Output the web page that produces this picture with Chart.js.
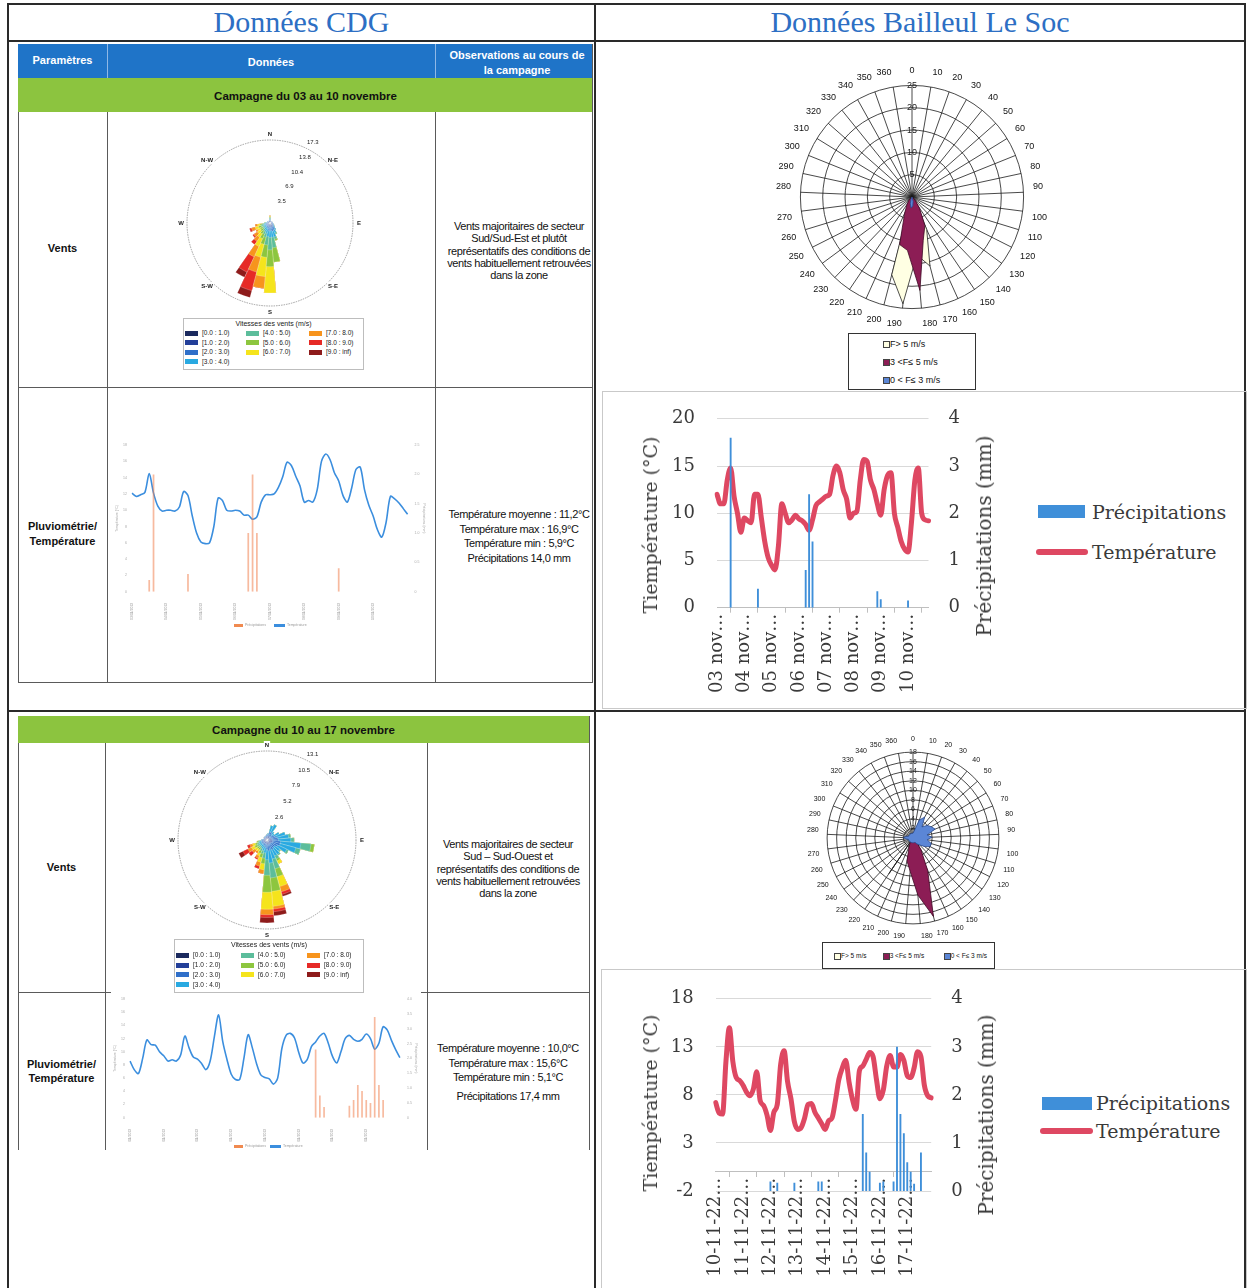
<!DOCTYPE html>
<html lang="fr"><head><meta charset="utf-8"><title>Données météo CDG / Bailleul Le Soc</title>
<script src="https://cdn.jsdelivr.net/npm/chart.js@4.4.1/dist/chart.umd.min.js"></script>
<style>
html,body{margin:0;padding:0;background:#fff;}
body{position:relative;width:1247px;height:1288px;overflow:hidden;font-family:"Liberation Sans",Arial,sans-serif;color:#111;}
.ln{position:absolute;background:#2a2a2a;}
.tl{position:absolute;background:#5a5a5a;}
.title{position:absolute;top:4px;font-family:"Liberation Serif",serif;font-size:30px;color:#2d6fc4;text-align:center;line-height:36px;}
.hdr{position:absolute;background:#1f74c8;}
.hdrt{position:absolute;color:#fff;font-weight:bold;font-size:11px;text-align:center;line-height:15px;}
.green{position:absolute;background:#8cc43f;}
.camp{position:absolute;font-weight:bold;font-size:11.5px;text-align:center;line-height:16px;}
.rowlab{position:absolute;font-weight:bold;font-size:11px;text-align:center;}
.obs{position:absolute;font-size:11px;letter-spacing:-0.4px;text-align:center;white-space:nowrap;color:#111;}
canvas{position:absolute;}
.box{position:absolute;border:1px solid #c9c9c9;}
.rleg{position:absolute;border:1px solid #bdbdbd;background:#fff;font-size:6.5px;color:#222;}
.rleg div{position:absolute;white-space:nowrap;}
.bleg{position:absolute;border:1px solid #333;background:#fff;font-size:9px;color:#111;}
.bleg div{position:absolute;white-space:nowrap;}
.sw{position:absolute;}
.xl{position:absolute;font-family:"DejaVu Serif",serif;font-size:19px;color:#3a3a3a;white-space:nowrap;line-height:22px;}
.vt{position:absolute;font-family:"DejaVu Serif",serif;font-size:19px;color:#3a3a3a;white-space:nowrap;line-height:22px;transform:translate(-50%,-50%) rotate(-90deg);}
.tiny{position:absolute;font-size:3.5px;color:#999;white-space:nowrap;}
</style>
</head>
<body>
<!-- outer frame -->
<div class="ln" style="left:8px;top:3px;width:1238px;height:1.5px"></div>
<div class="ln" style="left:8px;top:40px;width:1238px;height:1.5px"></div>
<div class="ln" style="left:8px;top:710px;width:1238px;height:2px"></div>
<div class="ln" style="left:7px;top:3px;width:1.5px;height:1285px"></div>
<div class="ln" style="left:594px;top:3px;width:1.5px;height:1285px"></div>
<div class="ln" style="left:1244px;top:3px;width:1.5px;height:1285px"></div>

<div class="title" style="left:8px;width:587px">Données CDG</div>
<div class="title" style="left:595px;width:650px">Données Bailleul Le Soc</div>

<!-- CDG table 1 -->
<div class="hdr" style="left:18px;top:44px;width:575px;height:34px"></div>
<div style="position:absolute;left:107px;top:44px;width:1px;height:34px;background:#8fb8e6"></div>
<div style="position:absolute;left:435px;top:44px;width:1px;height:34px;background:#8fb8e6"></div>
<div class="hdrt" style="left:18px;top:52.5px;width:89px">Paramètres</div>
<div class="hdrt" style="left:107px;top:54.5px;width:328px">Données</div>
<div class="hdrt" style="left:436px;top:47.5px;width:162px">Observations au cours de<br>la campagne</div>
<div class="green" style="left:18px;top:78px;width:575px;height:34px"></div>
<div class="camp" style="left:18px;top:88px;width:575px">Campagne du 03 au 10 novembre</div>
<div class="tl" style="left:18px;top:112px;width:1px;height:570px"></div>
<div class="tl" style="left:107px;top:112px;width:1px;height:570px"></div>
<div class="tl" style="left:435px;top:112px;width:1px;height:570px"></div>
<div class="tl" style="left:592px;top:44px;width:1px;height:638px"></div>
<div class="tl" style="left:18px;top:387px;width:575px;height:1px"></div>
<div class="tl" style="left:18px;top:682px;width:575px;height:1px"></div>
<div class="rowlab" style="left:18px;top:241px;width:89px;line-height:14px">Vents</div>
<div class="rowlab" style="left:18px;top:518.5px;width:89px;line-height:15px">Pluviométrie/<br>Température</div>
<div class="obs" style="left:436px;top:220px;width:166px;line-height:12.3px">Vents majoritaires de secteur<br>Sud/Sud-Est et plutôt<br>représentatifs des conditions de<br>vents habituellement retrouvées<br>dans la zone</div>
<div class="obs" style="left:436px;top:507px;width:166px;line-height:14.7px">Température moyenne : 11,2°C<br>Température max : 16,9°C<br>Température min : 5,9°C<br>Précipitations 14,0 mm</div>

<!-- CDG table 2 -->
<div class="green" style="left:18px;top:716px;width:571px;height:27px"></div>
<div class="camp" style="left:18px;top:722px;width:571px">Campagne du 10 au 17 novembre</div>
<div class="tl" style="left:18px;top:743px;width:1px;height:407px"></div>
<div class="tl" style="left:105px;top:743px;width:1px;height:407px"></div>
<div class="tl" style="left:427px;top:743px;width:1px;height:407px"></div>
<div class="tl" style="left:589px;top:716px;width:1px;height:434px"></div>
<div class="tl" style="left:18px;top:992px;width:93px;height:1px"></div>
<div class="tl" style="left:421px;top:992px;width:168px;height:1px"></div>
<div class="rowlab" style="left:18px;top:860px;width:87px;line-height:14px">Vents</div>
<div class="rowlab" style="left:18px;top:1058px;width:87px;line-height:13.5px">Pluviométrie/<br>Température</div>
<div class="obs" style="left:427px;top:838px;width:162px;line-height:12.25px">Vents majoritaires de secteur<br>Sud – Sud-Ouest et<br>représentatifs des conditions de<br>vents habituellement retrouvées<br>dans la zone</div>
<div class="obs" style="left:427px;top:1041px;width:162px;line-height:14.5px">Température moyenne : 10,0°C<br>Température max : 15,6°C<br>Température min : 5,1°C</div>
<div class="obs" style="left:427px;top:1089px;width:162px;line-height:14.5px">Précipitations 17,4 mm</div>

<!-- CDG canvases -->
<canvas id="cdgRose1" width="220" height="220" style="left:160px;top:113px"></canvas>
<div class="rleg" id="cdgLeg1" style="left:183px;top:318px;width:179px;height:50px"></div>
<canvas id="cdgLine1" width="330" height="196" style="left:108px;top:436px"></canvas>
<div class="sw" style="left:234px;top:624px;width:9px;height:2.5px;background:#f08a50"></div>
<div class="tiny" style="left:245px;top:623px">Précipitations</div>
<div class="sw" style="left:274px;top:624px;width:11px;height:2.5px;background:#3b8ede"></div>
<div class="tiny" style="left:287px;top:623px">Température</div>

<canvas id="cdgRose2" width="240" height="240" style="left:146.7px;top:720px"></canvas>
<div class="rleg" id="cdgLeg2" style="left:174px;top:939px;width:188px;height:52px"></div>
<canvas id="cdgLine2" width="324" height="152" style="left:106px;top:990px"></canvas>
<div class="sw" style="left:234px;top:1145px;width:9px;height:2.5px;background:#f08a50"></div>
<div class="tiny" style="left:245px;top:1144px">Précipitations</div>
<div class="sw" style="left:270px;top:1145px;width:11px;height:2.5px;background:#3b8ede"></div>
<div class="tiny" style="left:283px;top:1144px">Température</div>

<!-- Bailleul -->
<canvas id="blRoseA" width="272" height="272" style="left:775.7px;top:60.7px"></canvas>
<div class="bleg" id="blLegA" style="left:848px;top:333px;width:126px;height:55px"></div>
<div class="box" style="left:602px;top:391px;width:643px;height:316px"></div>
<canvas id="blLine1" width="362" height="315" style="left:636px;top:385.5px"></canvas>
<div class="vt" id="blT1l" style="left:649.6px;top:525px"></div>
<div class="vt" id="blT1r" style="left:984px;top:536px;font-size:20px"></div>
<div class="sw" style="left:1038px;top:505px;width:47px;height:13px;background:#3f8fd9"></div>
<div class="xl" id="blL1a" style="left:1092px;top:500.7px"></div>
<div class="sw" style="left:1036px;top:548.5px;width:52px;height:6.5px;border-radius:3px;background:#de4862"></div>
<div class="xl" id="blL1b" style="left:1092px;top:540.7px"></div>

<canvas id="blRoseB" width="212" height="212" style="left:807.3px;top:732.3px"></canvas>
<div class="bleg" id="blLegB" style="left:822px;top:942px;width:171px;height:25px;font-size:6.5px"></div>
<div class="box" style="left:601px;top:969px;width:644px;height:320px"></div>
<canvas id="blLine2" width="364" height="323" style="left:636px;top:965.5px"></canvas>
<div class="vt" id="blT2l" style="left:649.6px;top:1103px"></div>
<div class="vt" id="blT2r" style="left:986px;top:1115px;font-size:20px"></div>
<div class="sw" style="left:1042px;top:1097px;width:50px;height:13px;background:#3f8fd9"></div>
<div class="xl" id="blL2a" style="left:1096px;top:1092px"></div>
<div class="sw" style="left:1040px;top:1127.5px;width:53px;height:6.5px;border-radius:3px;background:#de4862"></div>
<div class="xl" id="blL2b" style="left:1096px;top:1119.7px"></div>

<script>
// ---------------- DATA ----------------
// CDG wind roses: 36 directions (0°,10°,...,350°), one array per wind-speed class (%)
const roseDirs = ['0°','10°','20°','30°','40°','50°','60°','70°','80°','90°','100°','110°','120°','130°','140°','150°','160°','170°','180°','190°','200°','210°','220°','230°','240°','250°','260°','270°','280°','290°','300°','310°','320°','330°','340°','350°'];
const speedBins = ['[0.0 : 1.0)','[1.0 : 2.0)','[2.0 : 3.0)','[3.0 : 4.0)','[4.0 : 5.0)','[5.0 : 6.0)','[6.0 : 7.0)','[7.0 : 8.0)','[8.0 : 9.0)','[9.0 : inf)'];
const compassPoints = ['N','N-E','E','S-E','S','S-W','W','N-W'];

// Campagne du 03 au 10 novembre
const rose1Max = 17.3;
const rose1RingLabels = ['3.5','6.9','10.4','13.8','17.3'];
const rose1Bin0 = [.2,.2,.2,.2,.2,.2,.2,.2,.2,.2,.2,.2,.2,.2,.3,.3,.3,.3,.3,.3,.3,.2,.2,.2,.2,.2,.2,.2,.2,.2,.2,.2,.2,.2,.2,.2];
const rose1Bin1 = [.3,.2,.2,.2,.2,.2,.2,.2,.2,.2,.2,.3,.3,.3,.5,.5,.6,.5,.5,.5,.4,.4,.3,.3,.3,.3,.3,.3,.2,.2,.2,.2,.2,.2,.2,.2];
const rose1Bin2 = [.3,.2,.1,0,0,0,.1,.1,.2,.2,.2,.2,.3,.4,.6,.8,.9,.8,.8,.8,.6,.5,.5,.4,.4,.4,.4,.3,.2,.2,.2,.1,.1,.1,.1,.2];
const rose1Bin3 = [.2,0,0,0,0,0,0,0,0,0,.1,.1,.2,.3,.4,.7,1.2,1.4,1.4,1.2,.9,.8,.6,.5,.5,.5,.4,.2,.1,0,0,0,0,0,0,0];
const rose1Bin4 = [.2,0,0,0,0,0,0,0,0,0,0,0,0,0,0,.3,.5,2.2,2.6,1.8,.9,.7,.5,.4,.4,.5,.4,.2,0,0,0,0,0,0,0,0];
const rose1Bin5 = [.1,0,0,0,0,0,0,0,0,0,0,0,0,0,0,0,.3,3.0,3.5,2.6,1.5,1.0,.7,.6,.5,.6,.4,0,0,0,0,0,0,0,0,0];
const rose1Bin6 = [.2,0,0,0,0,0,0,0,0,0,0,0,0,0,0,0,0,0,5.5,4.0,2.8,1.8,.9,.8,.6,.7,.5,0,0,0,0,0,0,0,0,0];
const rose1Bin7 = [0,0,0,0,0,0,0,0,0,0,0,0,0,0,0,0,0,0,0,2.5,3.2,2.4,1.0,.9,.4,.8,.5,0,0,0,0,0,0,0,0,0];
const rose1Bin8 = [0,0,0,0,0,0,0,0,0,0,0,0,0,0,0,0,0,0,0,0,4.0,3.5,.8,.3,0,.4,0,0,0,0,0,0,0,0,0,0];
const rose1Bin9 = [0,0,0,0,0,0,0,0,0,0,0,0,0,0,0,0,0,0,0,0,1.5,1.2,0,0,0,0,0,0,0,0,0,0,0,0,0,0];

// Campagne du 10 au 17 novembre
const rose2Max = 13.1;
const rose2RingLabels = ['2.6','5.2','7.9','10.5','13.1'];
const rose2Bin0 = [.2,.2,.2,.2,.2,.2,.2,.2,.2,.2,.2,.2,.2,.2,.2,.2,.2,.2,.2,.2,.2,.2,.2,.2,.2,.2,.2,.2,.2,.2,.2,.2,.2,.2,.2,.2];
const rose2Bin1 = [.3,.3,.4,.4,.3,.3,.4,.4,.5,.5,.6,.6,.5,.4,.4,.5,.4,.5,.4,.3,.3,.3,.3,.3,.3,.3,.3,.3,.2,.2,.2,.2,.2,.2,.2,.3];
const rose2Bin2 = [.3,.3,.6,.7,.5,.4,.6,.8,.9,1.0,1.2,1.2,1.0,.8,.8,.9,.8,.9,.8,.6,.5,.4,.3,.3,.4,.3,.3,.3,.2,.1,.1,.2,.2,.2,.2,.2];
const rose2Bin3 = [0,.2,1.0,1.2,.5,.4,.8,1.4,1.6,1.8,3.0,2.4,1.5,.9,1.2,1.0,1.5,1.8,1.5,.8,.6,.5,.4,.4,.4,.4,.3,0,0,0,0,0,0,0,0,0];
const rose2Bin4 = [0,0,0,0,0,0,0,0,.3,.5,1.5,.7,.3,.2,.2,.5,1.5,2.2,2.3,.8,.5,.4,.3,.3,.3,.3,.2,0,0,0,0,0,0,0,0,0];
const rose2Bin5 = [0,0,0,0,0,0,0,0,0,0,.5,0,0,0,0,.3,1.2,2.0,2.5,.8,.6,.4,.3,.3,.4,.3,.2,0,0,0,0,0,0,0,0,0];
const rose2Bin6 = [0,0,0,0,0,0,0,0,0,0,0,0,0,0,0,.5,1.5,2.2,2.5,.9,.7,.4,.3,.4,.5,.4,0,0,0,0,0,0,0,0,0,0];
const rose2Bin7 = [0,0,0,0,0,0,0,0,0,0,0,0,0,0,0,0,.8,.4,.8,.6,.6,.4,.3,.5,.6,.4,0,0,0,0,0,0,0,0,0,0];
const rose2Bin8 = [0,0,0,0,0,0,0,0,0,0,0,0,0,0,0,0,.4,.4,.4,0,.4,.2,0,.6,.8,.4,0,0,0,0,0,0,0,0,0,0];
const rose2Bin9 = [0,0,0,0,0,0,0,0,0,0,0,0,0,0,0,0,.3,.6,.8,0,0,0,0,0,.7,0,0,0,0,0,0,0,0,0,0,0];

// CDG temperature (°C) / precipitation (mm), 3-hourly
const cdgDays1 = ['03/11/2022','04/11/2022','05/11/2022','06/11/2022','07/11/2022','08/11/2022','09/11/2022','10/11/2022'];
const cdgTemp1 = [12.1,11.7,11.9,12.2,14.5,12.1,10.5,9.9,10.0,10.0,9.9,10.4,12.3,11.8,9.3,7.2,6.1,5.9,6.0,8.0,11.5,11.2,10.0,9.9,10.0,9.9,9.4,9.4,8.9,9.2,11.0,11.9,11.9,12.0,12.8,14.1,15.9,15.5,14.2,13.0,11.0,11.2,11.0,12.5,16.0,16.9,16.2,14.6,13.6,11.8,11.0,12.7,15.0,15.3,12.5,10.6,9.3,7.6,6.7,8.5,11.7,11.4,10.9,10.2,9.5];
const cdgRain1 = [0,0,0,0,0.2,2.0,0,0,0,0,0,0,0,0.3,0,0,0,0,0,0,0,0,0,0,0,0,0,1.0,2.0,1.0,0,0,0,0,0,0,0,0,0,0,0,0,0,0,0,0,0,0,0.4,0,0,0,0,0,0,0,0,0,0,0,0,0,0,0,0];
const cdgDays2 = ['10/11/2022','11/11/2022','12/11/2022','13/11/2022','14/11/2022','15/11/2022','16/11/2022','17/11/2022'];
const cdgTemp2 = [8.6,7.3,6.7,9.0,11.8,11.1,11.0,10.0,9.4,8.6,8.8,8.6,9.5,12.4,10.6,9.2,8.9,8.2,7.3,8.6,12.3,15.6,11.5,8.8,6.6,5.8,5.8,9.0,12.6,10.6,8.2,6.5,6.1,5.9,5.1,6.0,10.5,12.5,12.8,12.1,9.9,8.3,8.8,10.8,11.5,12.4,12.8,11.3,9.3,8.3,10.0,12.0,12.5,11.9,11.6,11.9,12.7,12.0,10.4,11.3,13.8,13.3,11.7,10.3,9.1];
const cdgRain2 = [0,0,0,0,0,0,0,0,0,0,0,0,0,0,0,0,0,0,0,0,0,0,0,0,0,0,0,0,0,0,0,0,0,0,0,0,0,0,0,0,0,0,0,0,2.3,0.75,0.36,0,0,0,0,0,0.4,0.6,1.1,0.9,0.6,0.5,3.4,1.1,0.6,0,0,0,0];

// Bailleul Le Soc wind roses (37 categories 0..360)
const blRoseCats = ['0','10','20','30','40','50','60','70','80','90','100','110','120','130','140','150','160','170','180','190','200','210','220','230','240','250','260','270','280','290','300','310','320','330','340','350','360'];
const blRoseLegend = ['F> 5 m/s','3 <F≤ 5 m/s','0 < F≤ 3 m/s'];
const blRoseA_high = [0,0,0,0,0,0,0,0,0,0,0,0,0,0,0,2,8,16,13,24,18,1,0,0,0,0,0,0,0,0,0,0,0,0,0,0,0];
const blRoseA_mid  = [0,0,0,0,0,0,0,0,0,0,0,0,0,0,1,3,7,10,21,12,11,4,2,1,0,0,0,0,0,0,0,0,0,0,0,0,0];
const blRoseA_low  = [0,0,0,0,0,0,0,0,0,0,0,0,0,0,0,0,0,1,2,2.5,1.5,0.5,0,0,0,0,0,0,0,0,0,0,0,0,0,0,0];
const blRoseB_high = [0,0,0,0,0,0,0,0,0,0,0,0,0,0,0,0,0,0,0,0,0,0,9,0,0,0,0,0,0,0,0,0,0,0,0,0,0];
const blRoseB_mid  = [0,0,0,0,0,0,0,0,0,0,0,0,0,0,1,3,7.5,17,12,7,5,2,1,0,0,0,0,0,0,0,0,0,0,0,0,0,0];
const blRoseB_low  = [1,1.5,4,5,3,4,4.5,5,3,4,3,4,4,3,2,1.5,1,1,1,1,1,1,1,1,1,1,1,1.5,2,1.5,1,1,1,1,1,1,1];

// Bailleul Le Soc temperature (°C) / precipitation (mm), 3-hourly
const blLegendLabels = ['Précipitations','Température'];
const blAxisTitles = ['Tiempérature (°C)','Précipitations (mm)'];
const blDays1 = ['03 nov…','04 nov…','05 nov…','06 nov…','07 nov…','08 nov…','09 nov…','10 nov…'];
const blTemp1 = [12,11,11,13.5,14.8,11.8,10,8,9.5,9.2,9,12,12,9.5,7,5.3,4.5,4,6.5,11,10,9,9.3,9.8,9.4,9.2,8.8,8.2,9.3,10.8,11.2,11.5,11.8,12,14,15,14.3,12.5,11.5,9.5,10,10.2,13.5,15.7,15.5,13.5,12.5,11,9.8,12.5,14,14.3,10,8.5,7,6.2,5.9,9,13.5,14.8,10,9.3,9.2];
const blRain1 = [0,0,0,0,3.6,0,0,0,0,0,0,0,0.4,0,0,0,0,0,0,0,0,0,0,0,0,0,0.8,2.4,1.4,0,0,0,0,0,0,0,0,0,0,0,0,0,0,0,0,0,0,0.35,0.18,0,0,0,0,0,0,0,0.15,0,0,0,0,0,0];
const blDays2 = ['10-11-22…','11-11-22…','12-11-22…','13-11-22…','14-11-22…','15-11-22…','16-11-22…','17-11-22…'];
const blTemp2 = [7.2,6.1,6.0,11.5,15,11.5,9.8,9.5,9.0,8.3,7.9,8.6,10.4,7.4,6.9,5.9,4.3,6.2,7.0,11.2,12.6,9.4,7.6,5.2,4.4,4.6,5.6,7.0,7.1,6.2,5.6,5.0,4.4,5.3,5.6,7.4,9.6,10.8,11.6,9.3,7.5,6.5,10.5,11.0,11.7,12.4,12.0,9.6,7.6,8.5,11.0,12.1,10.9,10.9,12.2,11.6,10.0,9.8,10.8,12.5,12.0,9.0,7.9,7.7];
const blRain2 = [0,0,0,0,0,0,0,0,0,0,0,0,0,0,0,0,0.2,0,0.17,0,0,0,0,0.17,0,0,0,0,0,0,0.2,0.2,0,0,0,0,0,0,0,0,0,0,0,1.6,0.8,0.4,0,0,0.17,0.2,0,0,0.2,3.0,1.6,1.2,0.6,0.4,0.15,0,0.8,0,0,0];

// ---------------- STYLE ----------------
const binColors = ['#1b2a5e','#233f99','#2f6fc9','#29a9e1','#5cbd9b','#8dc63f','#f5e41c','#f7941d','#e62a26','#8e1b1b'];
const hours3 = ['00h','03h','06h','09h','12h','15h','18h','21h'];

Chart.defaults.animation = false;
Chart.defaults.responsive = false;
Chart.defaults.devicePixelRatio = 1;
Chart.defaults.font.family = '"Liberation Sans", Arial, sans-serif';
Chart.defaults.plugins.legend.display = false;
Chart.defaults.plugins.tooltip.enabled = false;

function timeLabels(days, n) {
  const out = [];
  for (let i = 0; i < n; i++) out.push((days[Math.floor(i / 8)] || '') + ' ' + hours3[i % 8]);
  return out;
}

// ---------- CDG wind roses (stacked polar area) ----------
function roseDecor(rings, compassOffset) {
  return {
    id: 'roseDecor',
    beforeDatasetsDraw(chart) {
      const s = chart.scales.r, ctx = chart.ctx;
      ctx.save();
      ctx.strokeStyle = '#8a8a8a'; ctx.lineWidth = 0.8; ctx.setLineDash([1.5, 1]);
      ctx.beginPath(); ctx.arc(s.xCenter, s.yCenter, s.drawingArea, 0, 2 * Math.PI); ctx.stroke();
      ctx.restore();
    },
    afterDatasetsDraw(chart) {
      const s = chart.scales.r, ctx = chart.ctx;
      const cx = s.xCenter, cy = s.yCenter, R = s.drawingArea;
      ctx.save();
      ctx.textAlign = 'center'; ctx.textBaseline = 'middle';
      ctx.font = 'bold 6px "Liberation Sans"';
      compassPoints.forEach((t, k) => {
        const a = k * Math.PI / 4, r = R + compassOffset;
        const x = cx + r * Math.sin(a), y = cy - r * Math.cos(a);
        const w = ctx.measureText(t).width;
        ctx.fillStyle = '#fff'; ctx.fillRect(x - w / 2 - 1, y - 4, w + 2, 8);
        ctx.fillStyle = '#222'; ctx.fillText(t, x, y);
      });
      ctx.font = '6px "Liberation Sans"';
      const a = 28 * Math.PI / 180;
      rings.forEach((t, i) => {
        const r = s.getDistanceFromCenterForValue(s.max * (i + 1) / rings.length) + 8;
        ctx.fillStyle = '#222'; ctx.fillText(t, cx + r * Math.sin(a), cy - r * Math.cos(a));
      });
      ctx.restore();
    }
  };
}
function roseDatasets(bins) {
  const cum = bins[0].map(() => 0);
  return bins.map((b, k) => ({
    label: speedBins[k],
    data: b.map((v, i) => (cum[i] = Math.round((cum[i] + v) * 100) / 100)),
    backgroundColor: binColors[k],
    borderColor: 'rgba(255,255,255,0.6)',
    borderWidth: 0.4
  }));
}
function cdgRose(id, bins, max, rings, pad, off) {
  new Chart(document.getElementById(id), {
    type: 'polarArea',
    data: { labels: roseDirs, datasets: roseDatasets(bins) },
    options: {
      layout: { padding: pad },
      scales: { r: { min: 0, max: max, startAngle: -5, ticks: { display: false }, grid: { display: false }, angleLines: { display: false }, pointLabels: { display: false } } }
    },
    plugins: [roseDecor(rings, off)]
  });
}
cdgRose('cdgRose1', [rose1Bin0, rose1Bin1, rose1Bin2, rose1Bin3, rose1Bin4, rose1Bin5, rose1Bin6, rose1Bin7, rose1Bin8, rose1Bin9], rose1Max, rose1RingLabels, 27, 6);
cdgRose('cdgRose2', [rose2Bin0, rose2Bin1, rose2Bin2, rose2Bin3, rose2Bin4, rose2Bin5, rose2Bin6, rose2Bin7, rose2Bin8, rose2Bin9], rose2Max, rose2RingLabels, 30.7, 6);

function roseLegend(id, colX, rowY0, rowStep, titleY) {
  const box = document.getElementById(id);
  const t = document.createElement('div');
  t.textContent = 'Vitesses des vents (m/s)';
  t.style.cssText = 'left:0;width:100%;text-align:center;top:' + (titleY - 4) + 'px;line-height:8px;font-size:7px';
  box.appendChild(t);
  const cols = [[0, 1, 2, 3], [4, 5, 6], [7, 8, 9]];
  cols.forEach((c, ci) => c.forEach((k, ri) => {
    const y = rowY0 + ri * rowStep;
    const sw = document.createElement('div');
    sw.style.cssText = 'left:' + colX[ci] + 'px;top:' + (y - 2.5) + 'px;width:13px;height:5px;background:' + binColors[k];
    box.appendChild(sw);
    const tx = document.createElement('div');
    tx.textContent = speedBins[k];
    tx.style.cssText = 'left:' + (colX[ci] + 17) + 'px;top:' + (y - 4) + 'px;line-height:8px';
    box.appendChild(tx);
  }));
}
roseLegend('cdgLeg1', [1, 62, 125], 14, 9.5, 4.7);
roseLegend('cdgLeg2', [1, 66, 132], 15.3, 9.8, 5.3);

// ---------- CDG temperature / precipitation ----------
function cdgChart(id, days, temp, rain, rainMax, rainStep, top, xH, rightW) {
  const tiny = { size: 3.5 };
  new Chart(document.getElementById(id), {
    type: 'bar',
    data: {
      labels: timeLabels(days, temp.length),
      datasets: [
        { type: 'line', label: 'Température', data: temp, yAxisID: 'y', borderColor: '#3b8ede', borderWidth: 1.6, pointRadius: 0, tension: 0.3, order: 1 },
        { type: 'bar', label: 'Précipitations', data: rain, yAxisID: 'y1', backgroundColor: 'rgba(240,130,80,0.55)', barPercentage: 0.4, categoryPercentage: 1, order: 0 }
      ]
    },
    options: {
      layout: { padding: { top: top, bottom: 0, left: 0, right: 0 } },
      scales: {
        x: { offset: false, grid: { display: false }, border: { display: false },
             ticks: { autoSkip: false, minRotation: 90, maxRotation: 90, font: tiny, color: '#999', padding: 3,
                      callback: (v, i) => (i % 8 === 0 && days[i / 8]) ? days[i / 8] : null },
             afterFit: s => { s.height = xH; } },
        y: { min: 0, max: 18, ticks: { stepSize: 2, font: tiny, color: '#aaa', padding: 5 }, grid: { display: false, drawTicks: false }, border: { display: false },
             title: { display: true, text: 'Température (°C)', font: tiny, color: '#aaa', padding: { top: 7, bottom: 0 } },
             afterFit: s => { s.width = 24; } },
        y1: { position: 'right', min: 0, max: rainMax, ticks: { stepSize: rainStep, font: tiny, color: '#aaa', padding: 7 }, grid: { display: false, drawTicks: false }, border: { display: false },
              title: { display: true, text: 'Précipitations (mm)', font: tiny, color: '#aaa', padding: { top: 12, bottom: 0 } },
              afterFit: s => { s.width = rightW; } }
      }
    }
  });
}
cdgChart('cdgLine1', cdgDays1, cdgTemp1, cdgRain1, 2.5, 0.5, 7.3, 40.3, 30.4);
cdgChart('cdgLine2', cdgDays2, cdgTemp2, cdgRain2, 4, 0.5, 6.7, 24.3, 30);

// ---------- Bailleul wind roses (radar) ----------
function blRose(id, high, mid, low, max, step, fs, pad) {
  new Chart(document.getElementById(id), {
    type: 'radar',
    data: {
      labels: blRoseCats,
      datasets: [
        { label: blRoseLegend[0], data: high, backgroundColor: '#ffffe3', borderColor: '#222', borderWidth: 0.8, pointRadius: 0, fill: true, order: 3 },
        { label: blRoseLegend[1], data: mid, backgroundColor: '#8c1d55', borderColor: '#3d0a25', borderWidth: 0.8, pointRadius: 0, fill: true, order: 2 },
        { label: blRoseLegend[2], data: low, backgroundColor: '#5b86d6', borderColor: '#2a4a90', borderWidth: 0.8, pointRadius: 0, fill: true, order: 1 }
      ]
    },
    options: {
      layout: { padding: pad },
      scales: { r: { min: 0, max: max,
        ticks: { stepSize: step, showLabelBackdrop: false, font: { size: fs }, color: '#222' },
        grid: { circular: true, color: '#1a1a1a', lineWidth: 0.8 },
        angleLines: { color: '#1a1a1a', lineWidth: 0.8 },
        pointLabels: { font: { size: fs }, color: '#111', padding: 3 } } }
    }
  });
}
blRose('blRoseA', blRoseA_high, blRoseA_mid, blRoseA_low, 25, 5, 9, 0);
blRose('blRoseB', blRoseB_high, blRoseB_mid, blRoseB_low, 18, 2, 7, 0);

function blLegend(id, fs, pos) {
  const box = document.getElementById(id);
  const cols = ['#ffffe3', '#8c1d55', '#5b86d6'];
  blRoseLegend.forEach((t, k) => {
    const sw = document.createElement('div');
    sw.style.cssText = 'left:' + pos[k][0] + 'px;top:' + (pos[k][1] - 3) + 'px;width:5px;height:5px;border:0.7px solid #444;background:' + cols[k];
    box.appendChild(sw);
    const tx = document.createElement('div');
    tx.textContent = t;
    tx.style.cssText = 'left:' + (pos[k][0] + 7) + 'px;top:' + (pos[k][1] - 6) + 'px;line-height:12px;font-size:' + fs + 'px';
    box.appendChild(tx);
  });
}
blLegend('blLegA', 9, [[34, 9.7], [34, 28], [34, 46.3]]);
blLegend('blLegB', 6.5, [[11, 12.5], [59.7, 12.5], [120.7, 12.5]]);

// ---------- Bailleul temperature / precipitation ----------
function blChart(id, days, temp, rain, yMin, yMax, yStep, xAtZero, leftW, rightW, xH, padBottom) {
  const f18 = { family: '"DejaVu Serif", serif', size: 18 };
  new Chart(document.getElementById(id), {
    type: 'bar',
    data: {
      labels: timeLabels(days, temp.length),
      datasets: [
        { type: 'line', label: blLegendLabels[1], data: temp, yAxisID: 'y', borderColor: '#de4862', borderWidth: 5, pointRadius: 0, cubicInterpolationMode: 'monotone', borderJoinStyle: 'round', borderCapStyle: 'round', order: 1 },
        { type: 'bar', label: blLegendLabels[0], data: rain, yAxisID: 'y1', backgroundColor: '#3f8fd9', barPercentage: 0.55, categoryPercentage: 1, order: 0 }
      ]
    },
    options: {
      layout: { padding: { top: 0, bottom: padBottom, left: 0, right: 0 } },
      scales: {
        x: { position: xAtZero ? { y: 0 } : 'bottom', offset: false,
             grid: { display: true, drawOnChartArea: false, drawTicks: true, tickLength: 5, color: '#bfbfbf' },
             border: { display: true, color: '#bfbfbf', dash: xAtZero ? [4, 3] : [] },
             ticks: { autoSkip: false, minRotation: 90, maxRotation: 90, padding: 1, font: f18, color: '#3a3a3a',
                      callback: (v, i) => (i % 8 === 0 && days[i / 8]) ? days[i / 8] : null },
             afterFit: s => { s.height = xH; } },
        y: { position: 'left', min: yMin, max: yMax, ticks: { stepSize: yStep, padding: 22, font: f18, color: '#3a3a3a' },
             grid: { color: '#d9d9d9', drawTicks: false }, border: { display: false },
             afterFit: s => { s.width = leftW; } },
        y1: { position: 'right', min: 0, max: 4, ticks: { stepSize: 1, padding: 20, font: f18, color: '#3a3a3a' },
              grid: { display: false, drawTicks: false }, border: { display: false },
              afterFit: s => { s.width = rightW; } }
      }
    }
  });
}
blChart('blLine1', blDays1, blTemp1, blRain1, 0, 20, 5, false, 81, 69.5, 93.3, 0);
blChart('blLine2', blDays2, blTemp2, blRain2, -2, 18, 5, true, 79.7, 68.8, 0, 98);

[['blL1a', blLegendLabels[0]], ['blL1b', blLegendLabels[1]], ['blL2a', blLegendLabels[0]], ['blL2b', blLegendLabels[1]],
 ['blT1l', blAxisTitles[0]], ['blT1r', blAxisTitles[1]], ['blT2l', blAxisTitles[0]], ['blT2r', blAxisTitles[1]]]
  .forEach(([id, t]) => { document.getElementById(id).textContent = t; });
</script>
</body></html>
